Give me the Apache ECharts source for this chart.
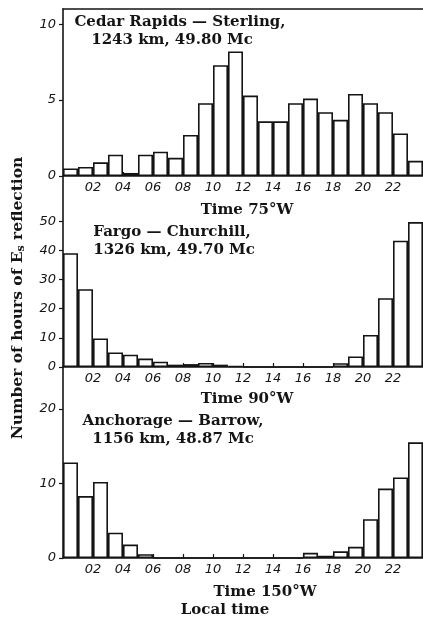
<!DOCTYPE html>
<html>
<head>
<meta charset="utf-8">
<script src="https://cdn.jsdelivr.net/npm/echarts@6/dist/echarts.min.js"></script>
<style>
html,body{margin:0;padding:0;background:#fff;}
#chart{width:423px;height:622px;}
</style>
</head>
<body>
<div id="chart"></div>
<script>
// ---- data ----
const hours = ['00','01','02','03','04','05','06','07','08','09','10','11','12','13','14','15','16','17','18','19','20','21','22','23'];
const cedarRapidsSterling = [0.5,0.6,0.9,1.4,0.2,1.4,1.6,1.2,2.7,4.8,7.3,8.2,5.3,3.6,3.6,4.8,5.1,4.2,3.7,5.4,4.8,4.2,2.8,1.0];
const fargoChurchill = [39,26.7,9.8,5.0,4.2,2.9,1.8,0.8,1.0,1.4,0.8,0.3,0,0,0,0,0,0,1.3,3.6,11.0,23.6,43.3,49.7];
const anchorageBarrow = [12.8,8.3,10.2,3.4,1.8,0.5,0,0,0,0,0,0,0,0,0,0,0.7,0.3,0.9,1.5,5.2,9.3,10.8,15.5];
const timeTickLabels = ['02','04','06','08','10','12','14','16','18','20','22'];
const yTicks1 = [0,5,10];
const yTicks2 = [0,10,20,30,40,50];
const yTicks3 = [0,10,20];
const panelTitles = [
  ['Cedar Rapids — Sterling,', '1243 km, 49.80 Mc'],
  ['Fargo — Churchill,', '1326 km, 49.70 Mc'],
  ['Anchorage — Barrow,', '1156 km, 48.87 Mc']
];
const timeNames = ['Time 75°W','Time 90°W','Time 150°W'];

// ---- chart ----
const chart = echarts.init(document.getElementById('chart'));
const INK = '#141414';
const serif = '"DejaVu Serif", "Liberation Serif", serif';
const tickFont = { fontFamily: '"DejaVu Sans", sans-serif', fontStyle: 'italic', fontSize: 13, color: INK };

const grids = [
  { left: 63, right: 0, top: 9, height: 167 },
  { left: 63, right: 0, top: 176, height: 191 },
  { left: 63, right: 0, top: 367, height: 191 }
];
const yMax = [11, 65.5, 25.6];
const yInt = [5, 10, 10];
const yTicks = [yTicks1, yTicks2, yTicks3];
const series = [cedarRapidsSterling, fargoChurchill, anchorageBarrow];

const xAxes = [], yAxes = [], seriesOpts = [];
for (let i = 0; i < 3; i++) {
  xAxes.push({ type: 'category', gridIndex: i, data: hours, show: false, boundaryGap: true });
  xAxes.push({
    type: 'value', gridIndex: i, min: 0, max: 24, interval: 2, position: 'bottom',
    axisLine: { show: true, lineStyle: { color: INK, width: 1.6 } },
    axisTick: { show: true, inside: true, length: 4, lineStyle: { color: INK, width: 1.2 } },
    axisLabel: Object.assign({
      margin: 5,
      showMinLabel: false, showMaxLabel: false,
      formatter: v => {
        const s = (v < 10 ? '0' : '') + v;
        return timeTickLabels.indexOf(s) >= 0 ? s : '';
      }
    }, tickFont),
    splitLine: { show: false }
  });
  const ticks = yTicks[i];
  yAxes.push({
    type: 'value', gridIndex: i, min: 0, max: yMax[i], interval: yInt[i],
    axisLine: { show: true, lineStyle: { color: INK, width: 1.6 } },
    axisTick: { show: true, length: 4, customValues: ticks, lineStyle: { color: INK, width: 1.2 } },
    axisLabel: Object.assign({
      margin: 7,
      customValues: ticks,
      formatter: v => (ticks.indexOf(v) >= 0 ? String(v) : '')
    }, tickFont),
    splitLine: { show: false }
  });
  seriesOpts.push({
    type: 'bar', xAxisIndex: i * 2, yAxisIndex: i,
    data: series[i], barCategoryGap: '0%', barGap: '0%',
    itemStyle: { color: '#fff', borderColor: INK, borderWidth: 1.6 },
    silent: true, animation: false
  });
}
xAxes.push({
  type: 'value', gridIndex: 0, min: 0, max: 24, position: 'top',
  axisLine: { show: true, lineStyle: { color: INK, width: 1.6 } },
  axisTick: { show: false }, axisLabel: { show: false }, splitLine: { show: false }
});

const titleStyle = { fontFamily: serif, fontWeight: 'bold', fontSize: 15, fill: INK };
const graphics = [];
const titleY = [[22, 40], [232, 250], [421, 439]];
const titleX = [[180, 172], [172, 174], [173, 173]];
for (let i = 0; i < 3; i++) {
  for (let j = 0; j < 2; j++) {
    graphics.push({ type: 'text', x: titleX[i][j], y: titleY[i][j],
      style: Object.assign({ text: panelTitles[i][j], textAlign: 'center', textVerticalAlign: 'middle' }, titleStyle) });
  }
}
const timeX = [247, 247, 265];
const timeY = [210, 399, 592];
for (let i = 0; i < 3; i++) {
  graphics.push({ type: 'text', x: timeX[i], y: timeY[i],
    style: Object.assign({ text: timeNames[i], textAlign: 'center', textVerticalAlign: 'middle' }, titleStyle) });
}
graphics.push({ type: 'text', x: 225, y: 610,
  style: Object.assign({ text: 'Local time', textAlign: 'center', textVerticalAlign: 'middle' }, titleStyle) });
graphics.push({
  type: 'text', x: 18, y: 298, rotation: Math.PI / 2,
  style: {
    text: 'Number of hours of {e|E}{s|s} reflection',
    textAlign: 'center', textVerticalAlign: 'middle',
    fontFamily: serif, fontWeight: 'bold', fontSize: 15.5, fill: INK,
    rich: {
      e: { fontFamily: serif, fontWeight: 'bold', fontSize: 15.5, color: INK },
      s: { fontFamily: serif, fontWeight: 'bold', fontSize: 11, color: INK, verticalAlign: 'bottom', padding: [7, 0, 0, 0] }
    }
  }
});

chart.setOption({
  animation: false,
  backgroundColor: '#fff',
  grid: grids,
  xAxis: xAxes,
  yAxis: yAxes,
  series: seriesOpts,
  graphic: graphics
});
</script>
</body>
</html>
